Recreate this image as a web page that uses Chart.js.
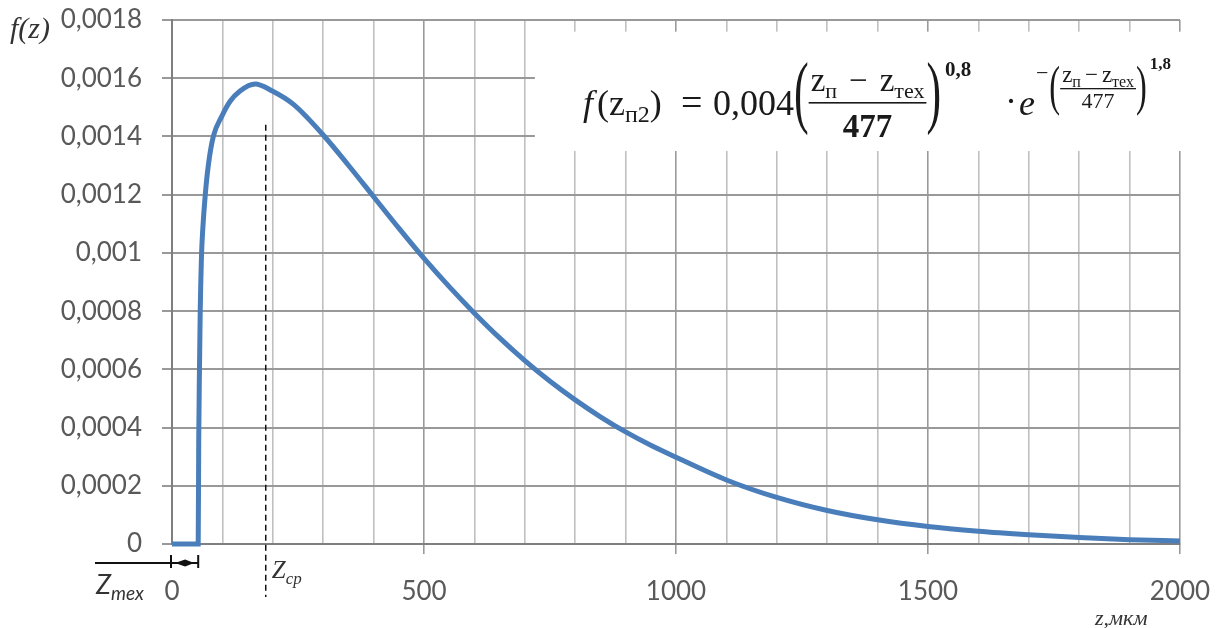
<!DOCTYPE html>
<html>
<head>
<meta charset="utf-8">
<script src="https://cdn.jsdelivr.net/npm/chart.js@4.4.1/dist/chart.umd.min.js"></script>
<style>
  html, body { margin: 0; padding: 0; background: #fff; }
  #wrap { width: 1224px; height: 628px; position: relative; }
</style>
</head>
<body>
<div id="wrap"><canvas id="densityChart" width="1224" height="628"></canvas></div>
<script>
// values
const zValues = [0, 52, 53, 54.5, 56, 57, 58.5, 61, 66, 72, 82, 99, 115, 135, 165, 200, 241,
  300, 350, 400, 450, 500, 550, 600, 650, 700, 750, 800, 850, 900, 950, 1000,
  1100, 1200, 1300, 1400, 1500, 1600, 1700, 1800, 1900, 2000];
const fValues = [0, 0, 0.00035, 0.0006, 0.0008, 0.00089, 0.00099, 0.00108, 0.0012, 0.0013, 0.0014, 0.00147, 0.00152, 0.001556, 0.00158, 0.001555, 0.00151,
  0.001405, 0.001301, 0.001193, 0.001085, 0.000981, 0.000884, 0.000793, 0.000708, 0.00063, 0.000559, 0.000495, 0.000437, 0.000385, 0.000339, 0.000298,
  0.00022, 0.00016, 0.000115, 0.000083, 0.00006, 0.000044, 0.000032, 0.000022, 0.000015, 0.00001];

const xTicks = [0, 500, 1000, 1500, 2000];
const yMax = 0.0018;
const yStep = 0.0002;

const zTex = 52;      // start of the curve
const zCp = 186;      // dashed line
const zCpTop = 0.00144;

// white box under the formula, in data units
const boxZ = [720, 2020];
const boxF = [0.00176, 0.00135];

const sans = 'Lato, "Open Sans", sans-serif';
const serif = '"Liberation Serif", "DejaVu Serif", serif';

function formatY(v) {
  const r = Math.round(v * 1e5) / 1e5;
  return String(r).replace('.', ',');
}

function txt(ctx, s, x, y, font) {
  ctx.font = font;
  ctx.fillText(s, x, y);
  return x + ctx.measureText(s).width;
}

function width(ctx, s, font) {
  ctx.font = font;
  return ctx.measureText(s).width;
}

function bigParen(ctx, ch, x, y, size, sx) {
  ctx.save();
  ctx.font = `${size}px ${serif}`;
  ctx.translate(x, y);
  ctx.scale(sx, 1);
  ctx.fillText(ch, 0, 0);
  const w = ctx.measureText(ch).width * sx;
  ctx.restore();
  return x + w;
}

// draws "z_п − z_тех", returns end x
function zDiff(ctx, x, y, big, small, gap) {
  x = txt(ctx, 'z', x, y, `${big}px ${serif}`);
  x = txt(ctx, 'п', x, y + big * 0.2, `${small}px ${serif}`);
  x = txt(ctx, '−', x + gap, y, `${big}px ${serif}`) + gap;
  x = txt(ctx, 'z', x, y, `${big}px ${serif}`);
  x = txt(ctx, 'тех', x, y + big * 0.2, `${small}px ${serif}`);
  return x;
}

function zDiffWidth(ctx, big, small, gap) {
  return width(ctx, 'z', `${big}px ${serif}`) * 2 + width(ctx, 'п', `${small}px ${serif}`) +
    width(ctx, 'тех', `${small}px ${serif}`) + width(ctx, '−', `${big}px ${serif}`) + gap * 2;
}

const formulaBox = {
  id: 'formulaBox',
  beforeDatasetsDraw(chart) {
    const { ctx, scales: { x, y } } = chart;
    ctx.save();
    ctx.fillStyle = '#fff';
    const l = x.getPixelForValue(boxZ[0]), r = x.getPixelForValue(boxZ[1]);
    const t = y.getPixelForValue(boxF[0]), b = y.getPixelForValue(boxF[1]);
    ctx.fillRect(l, t, r - l, b - t);
    ctx.restore();
  }
};

const annotations = {
  id: 'annotations',
  afterDraw(chart) {
    const { ctx, scales: { x, y }, chartArea } = chart;
    ctx.save();
    ctx.textAlign = 'left';
    ctx.textBaseline = 'alphabetic';

    // dashed Z_cp line
    const xc = x.getPixelForValue(zCp);
    ctx.strokeStyle = '#111';
    ctx.lineWidth = 1.5;
    ctx.setLineDash([6, 4]);
    ctx.beginPath();
    ctx.moveTo(xc, y.getPixelForValue(zCpTop));
    ctx.lineTo(xc, chartArea.bottom + 53);
    ctx.stroke();
    ctx.setLineDash([]);

    // Z_tex bracket
    const x0 = x.getPixelForValue(0), xt = x.getPixelForValue(zTex);
    const yb = chartArea.bottom + 19;
    ctx.lineWidth = 2;
    ctx.strokeStyle = '#111';
    ctx.beginPath();
    ctx.moveTo(95, yb); ctx.lineTo(xt, yb);
    ctx.moveTo(x0 - 1, yb - 8); ctx.lineTo(x0 - 1, yb + 5);
    ctx.moveTo(xt, yb - 8); ctx.lineTo(xt, yb + 5);
    ctx.stroke();
    ctx.fillStyle = '#111';
    const mid = (x0 + xt) / 2;
    ctx.beginPath();
    ctx.moveTo(x0 + 3, yb); ctx.lineTo(mid, yb - 3.5); ctx.lineTo(mid, yb + 3.5); ctx.closePath();
    ctx.moveTo(xt - 4, yb); ctx.lineTo(mid, yb - 3.5); ctx.lineTo(mid, yb + 3.5); ctx.closePath();
    ctx.fill();

    // labels
    ctx.fillStyle = '#333';
    let px = txt(ctx, 'Z', 96, 594, `italic 27px ${sans}`);
    txt(ctx, 'mex', px, 600, `italic 19px ${sans}`);
    px = txt(ctx, 'Z', xc + 6, 578, `italic 25px ${serif}`);
    txt(ctx, 'ср', px, 584, `italic 17px ${serif}`);
    txt(ctx, 'f(z)', 10, 38, `italic 30px ${serif}`);
    txt(ctx, 'z,мкм', 1095, 625, `italic 22px ${serif}`);

    // formula
    ctx.fillStyle = '#1a1a1a';
    const B = 115;
    let fx = 583;
    fx = txt(ctx, 'f', fx, B, `italic 36px ${serif}`) + 4;
    fx = txt(ctx, '(', fx, B, `36px ${serif}`);
    fx = txt(ctx, 'z', fx, B, `36px ${serif}`);
    fx = txt(ctx, 'п2', fx, B + 7, `24px ${serif}`);
    fx = txt(ctx, ')', fx, B, `36px ${serif}`);
    txt(ctx, '=', 681, B, `38px ${serif}`);
    txt(ctx, '0,004', 713, B, `36px ${serif}`);
    fx = bigParen(ctx, '(', 794, B + 3, 80, 0.55);

    // main fraction
    const numW = zDiffWidth(ctx, 33, 22, 12);
    const barW = numW + 4;
    zDiff(ctx, fx + 2, 91, 33, 22, 12);
    ctx.fillRect(fx, 102, barW, 1.6);
    txt(ctx, '477', fx + barW / 2 - width(ctx, '477', `bold 33px ${serif}`) / 2, 137, `bold 33px ${serif}`);
    fx += barW;
    fx = bigParen(ctx, ')', fx, B + 3, 80, 0.55);
    txt(ctx, '0,8', fx + 4, 76, `bold 21px ${serif}`);

    fx = txt(ctx, '·', 1005, B - 2, `36px ${serif}`) + 2;
    fx = txt(ctx, 'e', fx, B, `italic 36px ${serif}`) + 1;

    // exponent
    fx = txt(ctx, '−', fx, 80, `22px ${serif}`) + 1;
    fx = bigParen(ctx, '(', fx, 104, 54, 0.6);
    const eNumW = zDiffWidth(ctx, 23, 16, 4);
    const eBarW = eNumW + 4;
    zDiff(ctx, fx + 2, 82, 23, 16, 4);
    ctx.fillRect(fx, 88, eBarW, 1.3);
    txt(ctx, '477', fx + eBarW / 2 - width(ctx, '477', `22px ${serif}`) / 2, 108, `22px ${serif}`);
    fx += eBarW;
    fx = bigParen(ctx, ')', fx, 104, 54, 0.6);
    txt(ctx, '1,8', fx + 3, 69, `bold 17px ${serif}`);

    ctx.restore();
  }
};

const ctx = document.getElementById('densityChart').getContext('2d');

const chart = new Chart(ctx, {
  type: 'line',
  data: {
    datasets: [{
      data: zValues.map((z, i) => ({ x: z, y: fValues[i] })),
      borderColor: '#4a7ebb',
      borderWidth: 5,
      pointRadius: 0,
      fill: false,
      cubicInterpolationMode: 'monotone',
      clip: 8,
    }],
  },
  options: {
    responsive: false,
    animation: false,
    layout: { padding: { top: 20, right: 44, left: 0, bottom: 0 } },
    plugins: { legend: { display: false }, tooltip: { enabled: false } },
    scales: {
      x: {
        type: 'linear',
        min: 0,
        max: 2000,
        afterFit: (s) => {
          s.height = 84;
          s.paddingLeft = 0;
          s.paddingRight = 0;
        },
        ticks: {
          stepSize: 100,
          autoSkip: false,
          maxRotation: 0,
          padding: 22,
          color: '#595959',
          font: { family: sans, size: 26 },
          callback: (v) => (xTicks.includes(v) ? String(v) : ''),
        },
        grid: {
          color: (c) => (xTicks.includes(c.tick.value) ? '#9a9a9a' : '#c0c0c0'),
          tickColor: (c) => (xTicks.includes(c.tick.value) && c.tick.value !== 0 ? '#9a9a9a' : 'rgba(0,0,0,0)'),
          lineWidth: 1.6,
          tickLength: 10,
        },
        border: { color: '#7f7f7f', width: 2 },
      },
      y: {
        min: 0,
        max: yMax,
        afterFit: (s) => {
          s.width = 172;
          s.paddingTop = 0;
          s.paddingBottom = 0;
        },
        ticks: {
          stepSize: yStep,
          padding: 20,
          color: '#595959',
          font: { family: sans, size: 26 },
          callback: (v) => formatY(v),
        },
        grid: {
          color: '#999',
          lineWidth: 2,
          tickLength: 10,
        },
        border: { color: '#7f7f7f', width: 2 },
      },
    },
  },
  plugins: [formulaBox, annotations],
});
</script>
</body>
</html>
